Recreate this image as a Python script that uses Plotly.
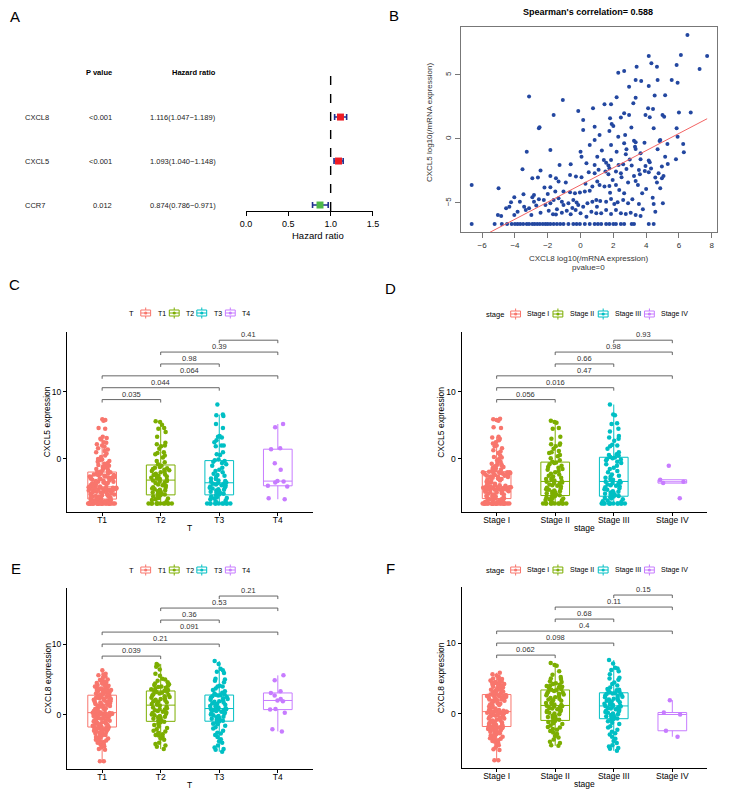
import plotly.graph_objects as go

W, H = 741, 795
FONT = "Liberation Sans"


def px(x):
    return x / W


def py(y):
    return 1 - y / H


# ---------------- Panel A data (forest plot) ----------------
A_GENES = ["CXCL8", "CXCL5", "CCR7"]
A_PVAL = ["<0.001", "<0.001", "0.012"]
A_HR = [1.116, 1.093, 0.874]
A_LOW = [1.047, 1.040, 0.786]
A_HIGH = [1.189, 1.148, 0.971]
A_TICKS = [0.0, 0.5, 1.0, 1.5]

# ---------------- Panel B data (scatter) ----------------
B_RHO = 0.588
B_PVALUE = "0"
B_SLOPE = 0.67
B_INTERCEPT = -3.59
B_X = [6.52, 6.12, 7.72, 4.16, 4.32, 4.66, 5.56, 5.86, 7.26, 2.66, 2.30, 3.42, 3.36, 3.70, 4.70, 5.92,
       4.16, 2.96, 2.20, 3.36, 4.52, 5.16, -3.14, -1.08, -0.14, 1.46, 1.86, 3.22, 0.76, 4.12, 4.42, 6.72,
       6.00, 2.66, 2.96, 3.96, 4.22, 5.00, 5.10, 2.46, 1.80, -1.64, 0.16, -2.50, -2.54, 1.90, 2.00, 0.86,
       5.86, 4.46, 0.16, 1.76, 1.16, 2.30, 5.92, 2.72, 3.26, 3.36, 4.86, 4.82, 6.26, 0.56, 1.86, 0.86,
       2.66, -3.28, -1.84, 0.00, 6.30, 3.32, 3.36, 3.66, 2.76, 0.06, 1.02, 5.16, 5.82, 4.16, 4.22, 3.66,
       1.86, 2.60, 2.32, 1.42, 1.56, 1.70, 1.76, 0.36, -1.28, -0.60, 5.32, 4.96, 3.96, 3.12, 0.86, -2.44,
       -3.54, -1.84, -2.94, -2.60, -1.50, -1.34, -0.64, -0.28, 0.06, 0.86, 1.02, 1.52, 1.70, 2.16, 2.46,
       2.80, 3.56, 3.62, 3.26, 3.36, 2.90, 3.92, 4.16, 4.56, 4.76, 4.66, 4.96, 4.86, 5.06, 1.96, 2.16,
       2.66, 2.36, 1.76, 1.46, 1.16, 0.72, 0.56, 0.26, -0.04, -0.34, -0.64, -1.04, -1.54, -1.84, -2.20,
       -2.84, -2.94, -3.48, -4.04, -4.24, -4.34, -4.54, -5.00, -5.04, -6.64, -3.44, -3.34, -2.84, -2.54,
       -2.24, -2.14, -1.84, -1.64, -1.34, -1.14, -1.04, -0.74, -0.44, -0.24, -0.14, 0.16, 0.42, 0.72,
       0.96, 1.20, 1.56, 1.86, 2.06, 2.26, 2.60, 2.90, 3.16, 3.56, 3.76, 4.46, 4.56, 5.02, -3.14, -2.44,
       -3.00, -1.94, -1.68, -1.44, -1.14, -0.84, -0.60, -0.30, 0.00, 0.36, 0.66, 0.96, 1.26, 1.56, 1.86,
       2.16, 2.46, 2.76, 3.06, 3.36, 3.66, -3.84, -4.04, -4.84,
       3.0, 3.5, 4.3, 2.2, 1.3, 0.5, -0.9, -2.0, 4.0, 3.8, 1.0, -0.5, 2.5, 1.8, 4.7, 5.3, 3.1, 2.8, 0.3,
       -1.5, -2.7, -3.7, 3.9, 4.4, 1.1,
       -6.64, -5.24, -4.80, -4.48, -4.20, -4.00, -3.84, -3.68, -3.50, -3.28, -3.14, -2.94, -2.80, -2.64,
       -2.48, -2.30, -2.14, -2.00, -1.84, -1.64, -1.44, -1.24, -1.04, -0.74, -0.44, -0.24, -0.04, 0.26,
       0.56, 0.86, 1.06, 1.26, 1.56, 1.76, 2.00, 2.16, 2.46, 2.66, 3.12, 3.26, 4.16, 4.46]
B_Y = [8.13, 6.56, 6.48, 6.48, 5.91, 5.65, 4.61, 5.78, 5.47, 5.31, 5.18, 5.65, 4.61, 4.53, 4.61, 4.40,
       4.14, 4.09, 3.26, 3.23, 3.39, 3.41, 3.31, 3.05, 2.19, 2.71, 2.71, 2.79, 2.40, 2.40, 2.34, 2.06,
       2.06, 2.01, 1.88, 1.88, 1.69, 1.88, 1.74, 1.67, 1.61, 1.88, 1.48, 0.91, 0.83, 1.17, 1.02, 0.96,
       0.83, 0.83, 0.70, 0.63, 0.31, 0.18, 0.18, 0.31, -0.13, -0.26, -0.08, -0.16, -0.39, -0.47, -0.47, -0.08,
       -0.34, -0.99, -0.86, -0.99, -1.04, -0.60, -0.78, -1.12, -1.20, -1.38, -1.38, -1.38, -1.59, -1.69, -1.82, -1.59,
       -1.64, -1.98, -2.03, -1.64, -1.85, -2.08, -2.29, -1.90, -2.03, -1.98, -1.95, -2.16, -2.11, -2.08, -2.03, -2.47,
       -2.37, -2.89, -3.07, -3.02, -3.07, -3.33, -2.81, -2.94, -2.99, -2.68, -3.33, -2.55, -2.76, -2.55, -2.68,
       -2.34, -2.42, -2.76, -2.89, -3.28, -3.41, -2.50, -2.60, -3.02, -2.68, -3.41, -3.07, -3.85, -2.89, -3.20, -3.59,
       -4.24, -3.98, -3.67, -3.72, -3.59, -3.72, -4.04, -4.11, -4.19, -4.24, -4.17, -4.11, -4.11, -3.78, -3.80,
       -4.38, -4.56, -4.32, -4.56, -4.95, -5.29, -5.42, -3.85, -5.94, -3.59, -5.29, -5.55, -4.90, -4.71,
       -4.77, -5.16, -5.03, -4.77, -4.64, -4.90, -5.16, -5.03, -4.77, -4.97, -5.16, -5.29, -5.03, -4.90,
       -4.77, -4.84, -4.90, -4.69, -5.08, -4.95, -4.77, -5.03, -4.71, -5.08, -4.24, -5.08, -5.68, -5.03, -5.42, -5.76,
       -5.94, -5.60, -5.89, -5.49, -5.76, -5.60, -5.89, -5.55, -5.81, -6.07, -5.68, -5.81, -5.81, -5.55, -5.86,
       -5.55, -5.81, -5.86, -5.76, -5.94, -6.02, -5.68, -5.94, -6.02,
       -1.6, -3.6, -2.3, -1.0, -0.9, -2.6, -3.4, -4.3, -3.9, -5.5, -5.3, -5.4, -3.0, -4.2, -0.8, -0.4, 0.9, -0.8, -3.5,
       -5.9, -5.2, -4.9, -0.3, -4.6, -2.4,
       -6.64, -6.64, -6.64, -6.64, -6.64, -6.64, -6.64, -6.64, -6.64, -6.64, -6.64, -6.64, -6.64, -6.64,
       -6.64, -6.64, -6.64, -6.64, -6.64, -6.64, -6.64, -6.64, -6.64, -6.64, -6.64, -6.64, -6.64, -6.64,
       -6.64, -6.64, -6.64, -6.64, -6.64, -6.64, -6.64, -6.64, -6.64, -6.64, -6.64, -6.64, -6.64, -6.64]
B_XTICKS = [-6, -4, -2, 0, 2, 4, 6, 8]
B_YTICKS = [-5, 0, 5]

# ---------------- Box-plot panels data ----------------
T_GROUPS = ["T1", "T2", "T3", "T4"]
STAGE_GROUPS = ["Stage I", "Stage II", "Stage III", "Stage IV"]
GROUP_COLORS = ["#F8766D", "#7CAE00", "#00BFC4", "#C77CFF"]
PAIRS = [(0, 1), (0, 2), (0, 3), (1, 2), (1, 3), (2, 3)]

# Panel C: CXCL5 by T
C_T1 = [-6.64, -6.64, -6.64, -6.64, -6.64, -6.64, -6.64, -6.64, -6.64, -6.64, -6.64, -6.64, -6.64, -6.64, -6.64,
        -6.64, -6.64, -6.64, -6.64, -6.64, -6.64, -6.64, -6.64, -6.64, -6.64, -6.64, -6.64, -6.64, -6.64, -6.64,
        -6.5, -6.4, -6.4, -6.3, -6.3, -6.2, -6.2, -6.1, -6.1, -6.0,
        -5.95, -5.9, -5.85, -5.8, -5.8, -5.7, -5.6, -5.6, -5.5, -5.5, -5.4, -5.4, -5.3, -5.3, -5.2, -5.2, -5.1, -5.0,
        -5.0, -4.9, -4.9, -4.8, -4.8, -4.7, -4.7, -4.7, -4.6, -4.6, -4.5, -4.5, -4.5, -4.4, -4.4, -4.4, -4.3, -4.3,
        -4.3, -4.25, -4.2, -4.2,
        -4.1, -4.0, -4.0, -3.9, -3.9, -3.8, -3.8, -3.7, -3.6, -3.6, -3.5, -3.5, -3.4, -3.4, -3.3, -3.2, -3.2, -3.1,
        -3.0, -3.0, -2.9, -2.9, -2.8, -2.8, -2.7, -2.7, -2.6, -2.6, -2.5, -2.5, -2.4, -2.4, -2.3, -2.3, -2.2, -2.2,
        -2.1, -2.1, -2.0, -2.0,
        -1.9, -1.8, -1.7, -1.6, -1.5, -1.4, -1.3, -1.2, -1.1, -1.0, -0.9, -0.8, -0.7, -0.6, -0.4, -0.3, -0.2, -0.1,
        0.0, 0.3, 0.5, 0.8, 1.0, 1.2, 1.4, 1.6, 1.8, 2.0, 2.2, 2.4, 2.5, 2.9, 3.0, 3.1, 3.3, 4.5, 4.6, 5.7, 5.8, 5.9]
C_T2 = [-6.64, -6.64, -6.64, -6.64, -6.64, -6.64, -6.64, -6.64, -6.64, -6.64, -6.64, -6.64,
        -6.3, -6.1, -6.0, -5.9, -5.8, -5.6, -5.5, -5.4,
        -5.3, -5.2, -5.1, -5.0, -4.9, -4.8, -4.7, -4.6, -4.5, -4.4, -4.3, -4.2, -4.0, -3.9, -3.8, -3.6, -3.5, -3.4,
        -3.3, -3.2,
        -3.1, -3.0, -2.9, -2.8, -2.7, -2.6, -2.5, -2.4, -2.3, -2.2, -2.0, -1.9, -1.8, -1.7, -1.6, -1.5, -1.4, -1.3,
        -1.2, -1.0,
        -0.8, -0.5, -0.3, 0.2, 0.5, 0.7, 0.9, 1.0, 1.5, 1.9, 2.0, 2.2, 2.4, 3.3, 4.0, 4.5, 4.6, 5.1, 5.5, 5.6]
C_T3 = [-6.64, -6.64, -6.64, -6.64, -6.64, -6.64, -6.64, -6.64, -6.64, -6.64, -6.64,
        -6.3, -6.2, -6.0, -5.9, -5.8, -5.7, -5.6, -5.4,
        -5.3, -5.2, -5.1, -5.0, -4.9, -4.8, -4.7, -4.6, -4.5, -4.4, -4.3, -4.2, -4.1, -4.0, -3.9, -3.8, -3.7,
        -3.65, -3.6,
        -3.5, -3.4, -3.3, -3.2, -3.0, -2.9, -2.7, -2.5, -2.4, -2.2, -2.0, -1.8, -1.6, -1.3, -1.0, -0.8, -0.6,
        -0.4, -0.3,
        -0.2, -0.1, 0.6, 0.7, 1.0, 1.9, 2.0, 2.0, 2.5, 2.8, 3.2, 3.3, 3.4, 4.6, 5.2, 6.4, 6.5, 6.6, 8.1]
C_T4 = [-6.0, -5.85, -4.1, -4.0, -3.5, -3.35, -3.3, -1.6, -0.64, 1.45, 1.6, 4.7, 5.2]
C_PVALS = ["0.035", "0.044", "0.064", "0.98", "0.39", "0.41"]

# Panel D: CXCL5 by stage
D_S1 = [-6.64, -6.64, -6.64, -6.64, -6.64, -6.64, -6.64, -6.64, -6.64, -6.64, -6.64, -6.64, -6.64, -6.64,
        -6.64, -6.64, -6.64, -6.64, -6.64, -6.64, -6.64, -6.64, -6.64, -6.64, -6.64, -6.64, -6.64, -6.64,
        -6.5, -6.4, -6.3, -6.3, -6.2, -6.2, -6.1, -6.0, -6.0,
        -5.9, -5.85, -5.8, -5.7, -5.6, -5.6, -5.5, -5.4, -5.3, -5.3, -5.2, -5.1, -5.0, -5.0, -4.9, -4.9, -4.8,
        -4.8, -4.7, -4.7, -4.6, -4.6, -4.5, -4.5, -4.5, -4.4, -4.4, -4.4, -4.3, -4.3, -4.3, -4.3, -4.25, -4.25,
        -4.2, -4.2, -4.2, -4.2,
        -4.1, -4.0, -3.9, -3.9, -3.8, -3.7, -3.6, -3.5, -3.5, -3.4, -3.3, -3.2, -3.1, -3.0, -3.0, -2.9, -2.8,
        -2.8, -2.7, -2.6, -2.6, -2.5, -2.5, -2.4, -2.4, -2.3, -2.3, -2.2, -2.2, -2.1, -2.1, -2.1, -2.0, -2.0,
        -2.0, -2.0, -2.0,
        -1.9, -1.8, -1.7, -1.6, -1.5, -1.4, -1.3, -1.2, -1.0, -0.9, -0.8, -0.7, -0.5, -0.4, -0.2, 0.0, 0.2,
        0.3, 0.5, 0.9, 1.1, 1.3, 1.6, 1.9, 2.0, 2.3, 2.5, 2.8, 3.0, 3.2, 3.3, -1.1, 4.6, 4.7, 5.7, 5.8, 5.9, 6.0]
D_S2 = [-6.64, -6.64, -6.64, -6.64, -6.64, -6.64, -6.64, -6.64, -6.64, -6.64, -6.64,
        -6.3, -6.2, -6.1, -6.0, -5.9, -5.8, -5.7, -5.6, -5.5,
        -5.4, -5.3, -5.2, -5.1, -5.0, -4.9, -4.8, -4.7, -4.6, -4.5, -4.4, -4.3, -4.1, -4.0, -3.9, -3.8, -3.7,
        -3.6, -3.5, -3.4,
        -3.3, -3.2, -3.1, -3.0, -2.9, -2.8, -2.6, -2.5, -2.3, -2.2, -2.0, -1.8, -1.6, -1.5, -1.3, -1.2, -1.0,
        -0.8, -0.6, -0.54,
        -0.4, -0.2, 0.1, 0.4, 0.6, 0.9, 1.0, 1.2, 1.5, 1.9, 2.1, 2.2, 2.3, 3.0, 3.3, 4.5, 4.6, 5.4, 5.5, 5.7]
D_S3 = [-6.64, -6.64, -6.64, -6.64, -6.64, -6.64, -6.64, -6.64, -6.64, -6.64, -6.64, -6.64,
        -6.4, -6.3, -6.2, -6.0, -5.9, -5.8, -5.7, -5.6,
        -5.5, -5.4, -5.3, -5.2, -5.1, -5.0, -4.9, -4.8, -4.6, -4.5, -4.4, -4.2, -4.1, -4.0, -3.9, -3.8, -3.7,
        -3.6, -3.5, -3.4,
        -3.3, -3.1, -3.0, -2.8, -2.6, -2.5, -2.3, -2.0, -1.8, -1.5, -1.3, -1.0, -0.8, -0.6, -0.4, -0.2, -0.1,
        0.0, 0.1, 0.2,
        0.3, 0.5, 0.6, 0.7, 1.0, 1.5, 1.9, 2.0, 2.1, 2.7, 3.0, 3.2, 3.4, 4.1, 4.5, 5.2, 5.3, 6.5, 6.6, 8.1]
D_S4 = [-5.85, -3.6, -3.4, -3.1, -1.0]
D_PVALS = ["0.056", "0.016", "0.47", "0.66", "0.98", "0.93"]

# Panel E: CXCL8 by T
E_T1 = [-6.64, -6.64, -5.0, -4.9, -4.7, -4.5, -4.4, -4.3, -4.2, -4.0, -3.9, -3.8, -3.7, -3.6, -3.5, -3.4,
        -3.3, -3.2, -3.1, -3.0, -2.9, -2.8, -2.8, -2.7, -2.6, -2.6, -2.5, -2.4, -2.4, -2.3, -2.2, -2.2, -2.1,
        -2.1, -2.0, -2.0, -1.9, -1.9, -1.8, -1.8,
        -1.75, -1.7, -1.6, -1.6, -1.5, -1.5, -1.4, -1.3, -1.3, -1.2, -1.1, -1.1, -1.0, -0.9, -0.9, -0.8, -0.7,
        -0.7, -0.6, -0.5, -0.5, -0.4, -0.3, -0.3, -0.2, -0.2, -0.1, -0.1, 0.0, 0.0, 0.05, 0.1, 0.1, 0.15, 0.15,
        0.2, 0.2, 0.2, 0.24, 0.24,
        0.3, 0.35, 0.4, 0.5, 0.5, 0.6, 0.7, 0.8, 0.8, 0.9, 1.0, 1.0, 1.1, 1.2, 1.3, 1.3, 1.4, 1.5, 1.5, 1.6,
        1.7, 1.7, 1.8, 1.9, 1.9, 2.0, 2.0, 2.1, 2.2, 2.2, 2.3, 2.3, 2.4, 2.4, 2.5, 2.5, 2.6, 2.6, 2.7, 2.7,
        2.8, 2.8, 2.9, 2.9, 3.0, 3.0, 3.1, 3.1, 3.2, 3.2, 3.3, 3.3, 3.4, 3.4, 3.5, 3.5, 3.6, 3.6, 3.7, 3.7,
        3.8, 3.9, 4.0, 4.0, 4.1, 4.2, 4.3, 4.4, 4.5, 4.6, 4.7, 4.8, 4.9, 5.0, 5.2, 5.4, 5.6, 5.7, 5.8, 6.3]
E_T2 = [-4.9, -4.6, -4.4, -4.2, -4.0, -3.6, -3.4, -3.2, -3.0, -2.9, -2.8, -2.6, -2.4, -2.3, -2.1, -1.9, -1.7,
        -1.5, -1.3, -1.1, -1.04,
        -0.9, -0.8, -0.6, -0.5, -0.4, -0.3, -0.2, -0.1, 0.0, 0.1, 0.2, 0.3, 0.4, 0.5, 0.6, 0.7, 0.8, 0.9, 1.0,
        1.1, 1.27,
        1.4, 1.5, 1.6, 1.7, 1.8, 1.9, 2.0, 2.1, 2.2, 2.3, 2.4, 2.5, 2.6, 2.7, 2.8, 2.9, 3.0, 3.1, 3.2, 3.25, 3.3,
        3.4, 3.5, 3.6, 3.7, 3.8, 3.9, 4.0, 4.1, 4.2, 4.3, 4.4, 4.6, 4.8, 5.0, 5.1, 5.5, 5.8, 6.4, 6.8, 7.0, 7.2]
E_T3 = [-5.3, -5.0, -4.9, -4.7, -4.4, -4.0, -3.8, -3.5, -3.2, -2.9, -2.7, -2.6, -2.3, -2.0, -1.8, -1.6, -1.4,
        -1.3, -1.1, -1.0,
        -0.9, -0.8, -0.7, -0.6, -0.5, -0.4, -0.3, -0.2, -0.1, 0.0, 0.1, 0.2, 0.3, 0.4, 0.5, 0.6, 0.65, 0.7,
        0.75, 0.8,
        0.9, 1.0, 1.1, 1.2, 1.3, 1.4, 1.5, 1.6, 1.7, 1.8, 1.9, 2.0, 2.1, 2.2, 2.3, 2.4, 2.5, 2.6, 2.7, 2.74,
        2.8, 2.9, 3.0, 3.1, 3.3, 3.5, 3.7, 4.0, 4.0, 4.1, 4.6, 4.8, 5.0, 5.1, 5.9, 6.1, 6.3, 6.5, 7.2, 7.6]
E_T4 = [-2.4, -2.1, 0.24, 0.7, 0.8, 1.9, 2.0, 2.2, 2.7, 3.07, 3.3, 4.86, 5.57]
E_PVALS = ["0.039", "0.21", "0.091", "0.36", "0.53", "0.21"]

# Panel F: CXCL8 by stage
F_S1 = [-6.64, -6.64, -5.2, -5.1, -4.8, -4.5, -4.4, -4.2, -4.0, -3.9, -3.8, -3.7, -3.6, -3.5, -3.4, -3.3,
        -3.2, -3.1, -3.0, -2.9, -2.8, -2.7, -2.6, -2.6, -2.5, -2.4, -2.4, -2.3, -2.2, -2.2, -2.1, -2.1, -2.0,
        -2.0, -1.95, -1.9, -1.9,
        -1.85, -1.8, -1.7, -1.6, -1.6, -1.5, -1.4, -1.4, -1.3, -1.2, -1.1, -1.0, -1.0, -0.9, -0.8, -0.7, -0.7,
        -0.6, -0.5, -0.4, -0.4, -0.3, -0.2, -0.2, -0.1, 0.0, 0.0, 0.05, 0.1, 0.1, 0.15, 0.2, 0.2, 0.2, 0.24,
        0.24, 0.24, 0.24,
        0.3, 0.4, 0.5, 0.5, 0.6, 0.7, 0.8, 0.9, 1.0, 1.0, 1.1, 1.2, 1.3, 1.4, 1.4, 1.5, 1.6, 1.7, 1.8, 1.8,
        1.9, 2.0, 2.0, 2.1, 2.2, 2.2, 2.3, 2.3, 2.4, 2.4, 2.5, 2.5, 2.5, 2.6, 2.6, 2.6, 2.6,
        2.7, 2.7, 2.8, 2.9, 2.9, 3.0, 3.0, 3.1, 3.2, 3.2, 3.3, 3.3, 3.4, 3.5, 3.5, 3.6, 3.7, 3.7, 3.8, 3.9,
        4.0, 4.0, 4.1, 4.2, 4.3, 4.3, 4.4, 4.5, 4.5, 4.6, 4.7, 4.8, 4.9, 5.0, 5.2, 5.4, 5.6, 5.8]
F_S2 = [-4.6, -4.5, -4.2, -4.0, -3.7, -3.4, -3.2, -2.9, -2.7, -2.5, -2.3, -2.2, -2.0, -1.9, -1.7, -1.5, -1.4,
        -1.2, -1.1, -1.06,
        -0.9, -0.8, -0.6, -0.5, -0.4, -0.3, -0.1, 0.0, 0.1, 0.2, 0.3, 0.4, 0.5, 0.6, 0.7, 0.8, 0.9, 1.0, 1.05,
        1.1,
        1.2, 1.3, 1.4, 1.5, 1.6, 1.8, 1.9, 2.0, 2.1, 2.2, 2.3, 2.5, 2.6, 2.7, 2.8, 2.9, 3.0, 3.1, 3.2, 3.3,
        3.4, 3.5, 3.6, 3.7, 3.8, 3.9, 4.0, 4.1, 4.2, 4.3, 4.5, 4.6, 4.9, 5.0, 5.2, 5.5, 6.0, 6.8, 6.9, 7.2]
F_S3 = [-5.3, -5.0, -4.9, -4.7, -4.5, -4.2, -3.9, -3.6, -3.3, -3.0, -2.8, -2.6, -2.3, -2.0, -1.8, -1.5, -1.3,
        -1.1, -0.9, -0.77,
        -0.7, -0.6, -0.5, -0.4, -0.3, -0.2, -0.1, 0.0, 0.1, 0.2, 0.3, 0.4, 0.5, 0.6, 0.7, 0.8, 0.9, 0.95, 1.0,
        1.06,
        1.1, 1.2, 1.3, 1.4, 1.5, 1.6, 1.7, 1.8, 1.9, 2.0, 2.1, 2.2, 2.3, 2.4, 2.5, 2.6, 2.7, 2.8, 2.85, 2.9,
        3.0, 3.1, 3.2, 3.3, 3.4, 3.5, 3.7, 4.0, 4.2, 4.4, 4.8, 5.0, 5.1, 5.6, 6.0, 6.2, 6.4, 6.5, 7.1, 7.6]
F_S4 = [-3.3, -2.45, -0.14, 0.14, 1.9]
F_PVALS = ["0.062", "0.098", "0.4", "0.68", "0.11", "0.15"]

# ======================= FIGURE =======================
fig = go.Figure()
shapes = []
annotations = []


def ann(text, x, y, size, xanchor="center", yanchor="middle", angle=0, color="#000",
        xref="paper", yref="paper"):
    annotations.append(dict(text=text, x=x, y=y, xref=xref, yref=yref, xanchor=xanchor,
                            yanchor=yanchor, textangle=angle, showarrow=False,
                            font=dict(family=FONT, size=size, color=color)))


# ---------------- Panel A ----------------
a_colors = ["#EE1C25" if h > 1 else "#4DB848" for h in A_HR]
fig.add_trace(go.Scatter(
    x=A_HR, y=A_GENES, mode="markers", xaxis="x", yaxis="y",
    marker=dict(symbol="square", size=7, color=a_colors, line=dict(width=0)),
    error_x=dict(type="data", symmetric=False,
                 array=[hi - h for h, hi in zip(A_HR, A_HIGH)],
                 arrayminus=[h - lo for h, lo in zip(A_HR, A_LOW)],
                 color="#1F2F8F", thickness=1.6, width=3),
    showlegend=False, hoverinfo="skip"))

fig.update_layout(
    xaxis=dict(domain=[px(244), px(373)], range=[0, 1.5], anchor="y", showgrid=False, zeroline=False,
               showline=True, linecolor="#000", linewidth=1, ticks="outside", ticklen=4,
               tickcolor="#000", tickvals=A_TICKS, tickformat=".1f",
               tickfont=dict(family=FONT, size=9, color="#000")),
    yaxis=dict(domain=[py(211), py(70)], type="category", categoryorder="array",
               categoryarray=A_GENES[::-1], range=[-0.136, 3.07], visible=False, anchor="x"),
)
shapes.append(dict(type="line", xref="x", yref="y domain", x0=1, x1=1, y0=0, y1=1,
                   line=dict(color="#000", width=1.4, dash="dash")))
ann("<b>P value</b>", px(110), py(73), 7.5, xanchor="right")
ann("<b>Hazard ratio</b>", px(215), py(73), 7.5, xanchor="right")
for g, p, h, lo, hi in zip(A_GENES, A_PVAL, A_HR, A_LOW, A_HIGH):
    ann(g, px(17), g, 7.5, xanchor="left", yref="y", color="#222")
    ann(p, px(110), g, 7.5, xanchor="right", yref="y", color="#222")
    ann(f"{h:.3f}({lo:.3f}\u2212{hi:.3f})", px(215), g, 7.5, xanchor="right", yref="y", color="#222")
ann("Hazard ratio", px(317), py(236), 9.5)

# ---------------- Panel B ----------------
fig.add_trace(go.Scatter(x=B_X, y=B_Y, mode="markers", xaxis="x2", yaxis="y2",
                         marker=dict(size=4, color="#2347A0", line=dict(width=0)),
                         showlegend=False, hoverinfo="skip"))
line_x = [min(B_X), max(B_X)]
line_y = [B_INTERCEPT + B_SLOPE * v for v in line_x]
fig.add_trace(go.Scatter(x=line_x, y=line_y, mode="lines", xaxis="x2", yaxis="y2",
                         line=dict(color="#F26464", width=1), showlegend=False, hoverinfo="skip"))
fig.update_layout(
    xaxis2=dict(domain=[px(462), px(723)], range=[-7.32, 8.34], anchor="y2", showgrid=False,
                zeroline=False, showline=True, mirror=True, linecolor="#777", linewidth=1,
                ticks="outside", ticklen=5, tickcolor="#777", tickvals=B_XTICKS,
                tickfont=dict(family=FONT, size=8, color="#333")),
    yaxis2=dict(domain=[py(232), py(27)], range=[-7.27, 8.75], anchor="x2", showgrid=False,
                zeroline=False, showline=True, mirror=True, linecolor="#777", linewidth=1,
                ticks="outside", ticklen=5, tickcolor="#777", tickvals=B_YTICKS, tickangle=-90,
                tickfont=dict(family=FONT, size=8, color="#333")),
)
ann(f"<b>Spearman's correlation= {B_RHO}</b>", px(592), py(12), 9)
ann("CXCL8 log10(/mRNA expression)", px(592), py(259), 8, color="#333")
ann(f"pvalue={B_PVALUE}", px(592), py(268), 8, color="#333")
ann("CXCL5 log10(/mRNA expression)", px(431), py(123), 8, angle=-90, color="#333")


# ---------------- Box panels ----------------
def box_panel(idx, groups, data, pvals, xdom, ydom, yrange, ytitle, xtitle, ytitle_x, legend_y,
              legend_title, key_xs, jitter):
    xa, ya = f"x{idx}", f"y{idx}"
    for g, vals, c in zip(groups, data, GROUP_COLORS):
        fig.add_trace(go.Box(y=vals, name=g, xaxis=xa, yaxis=ya, boxpoints="all", jitter=jitter,
                             pointpos=0, fillcolor="rgba(255,255,255,1)", whiskerwidth=0,
                             quartilemethod="inclusive",
                             line=dict(color=c, width=1), marker=dict(color=c, size=4.5, opacity=1),
                             showlegend=False, hoverinfo="skip"))
    axis_common = dict(showgrid=False, zeroline=False, showline=True, linecolor="#000", linewidth=1,
                       ticks="outside", ticklen=3, tickcolor="#000",
                       tickfont=dict(family=FONT, size=8.5, color="#000"))
    fig.update_layout({
        f"xaxis{idx}": dict(domain=[px(xdom[0]), px(xdom[1])], anchor=ya, type="category",
                            categoryorder="array", categoryarray=groups, range=[-0.6, 3.6],
                            ticklabelstandoff=-3, **axis_common),
        f"yaxis{idx}": dict(domain=[py(ydom[1]), py(ydom[0])], anchor=xa, range=yrange,
                            tick0=0, dtick=10, **axis_common),
    })
    allv = [v for vals in data for v in vals]
    vmax, vmin = max(allv), min(allv)
    rng = vmax - vmin
    tip = 0.03 * rng
    for k, ((i, j), p) in enumerate(zip(PAIRS, pvals)):
        yb = vmax + 0.05 * rng + k * 0.12 * rng
        style = dict(color="#555", width=0.9)
        shapes.append(dict(type="line", xref=xa, yref=ya, x0=i, x1=j, y0=yb, y1=yb, line=style))
        shapes.append(dict(type="line", xref=xa, yref=ya, x0=i, x1=i, y0=yb - tip, y1=yb, line=style))
        shapes.append(dict(type="line", xref=xa, yref=ya, x0=j, x1=j, y0=yb - tip, y1=yb, line=style))
        annotations.append(dict(text=p, x=(i + j) / 2, y=yb, xref=xa, yref=ya, xanchor="center",
                                yanchor="bottom", yshift=-1, showarrow=False,
                                font=dict(family=FONT, size=7.5, color="#333")))
    xc = (xdom[0] + xdom[1]) / 2
    ann(ytitle, px(ytitle_x), py((ydom[0] + ydom[1]) / 2), 8.5, angle=-90)
    ann(xtitle, px(xc), py(ydom[1] + 16), 8.5)
    # legend row
    ann(legend_title, px(key_xs[0] - 5), py(legend_y), 7.5, xanchor="right")
    for g, kx, c in zip(groups, key_xs, GROUP_COLORS):
        ln = dict(color=c, width=1)
        shapes.append(dict(type="rect", xref="paper", yref="paper", x0=px(kx), x1=px(kx + 10),
                           y0=py(legend_y + 3), y1=py(legend_y - 3), line=ln, fillcolor="white"))
        shapes.append(dict(type="line", xref="paper", yref="paper", x0=px(kx), x1=px(kx + 10),
                           y0=py(legend_y), y1=py(legend_y), line=ln))
        shapes.append(dict(type="line", xref="paper", yref="paper", x0=px(kx + 5), x1=px(kx + 5),
                           y0=py(legend_y - 5.5), y1=py(legend_y - 3), line=ln))
        shapes.append(dict(type="line", xref="paper", yref="paper", x0=px(kx + 5), x1=px(kx + 5),
                           y0=py(legend_y + 3), y1=py(legend_y + 5.5), line=ln))
        shapes.append(dict(type="circle", xref="paper", yref="paper", x0=px(kx + 3.4),
                           x1=px(kx + 6.6), y0=py(legend_y + 1.6), y1=py(legend_y - 1.6),
                           line=dict(width=0), fillcolor=c))
        ann(g, px(kx + 15), py(legend_y), 7, xanchor="left")


box_panel(3, T_GROUPS, [C_T1, C_T2, C_T3, C_T4], C_PVALS, (62, 312), (332, 512), [-7.9, 18.9],
          "CXCL5 expression", "T", 42, 313, "T", [137, 166, 194, 223], 1.0)
box_panel(4, STAGE_GROUPS, [D_S1, D_S2, D_S3, D_S4], D_PVALS, (463, 713), (332, 512), [-7.9, 18.9],
          "CXCL5 expression", "stage", 442, 314, "stage", [513, 556, 602, 649], 1.0)
box_panel(5, T_GROUPS, [E_T1, E_T2, E_T3, E_T4], E_PVALS, (62, 312), (588, 769), [-7.75, 18.0],
          "CXCL8 expression", "T", 42, 570, "T", [137, 166, 194, 223], 0.7)
box_panel(6, STAGE_GROUPS, [F_S1, F_S2, F_S3, F_S4], F_PVALS, (463, 713), (587, 768), [-7.75, 18.0],
          "CXCL8 expression", "stage", 442, 570, "stage", [513, 556, 602, 649], 0.7)

# ---------------- Panel letters ----------------
for letter, lx, ly in [("A", 9, 17), ("B", 394, 16), ("C", 9, 285), ("D", 391, 289),
                       ("E", 10, 568), ("F", 391, 568)]:
    ann(letter, px(lx), py(ly), 15)

fig.update_layout(width=W, height=H, margin=dict(l=0, r=0, t=0, b=0), paper_bgcolor="white",
                  plot_bgcolor="white", showlegend=False, boxmode="overlay",
                  shapes=shapes, annotations=annotations,
                  font=dict(family=FONT, size=8, color="#000"))
fig.write_html("out.html", config={"displayModeBar": False},
               post_script="document.body.style.margin='0px';document.body.style.overflow='hidden';")
